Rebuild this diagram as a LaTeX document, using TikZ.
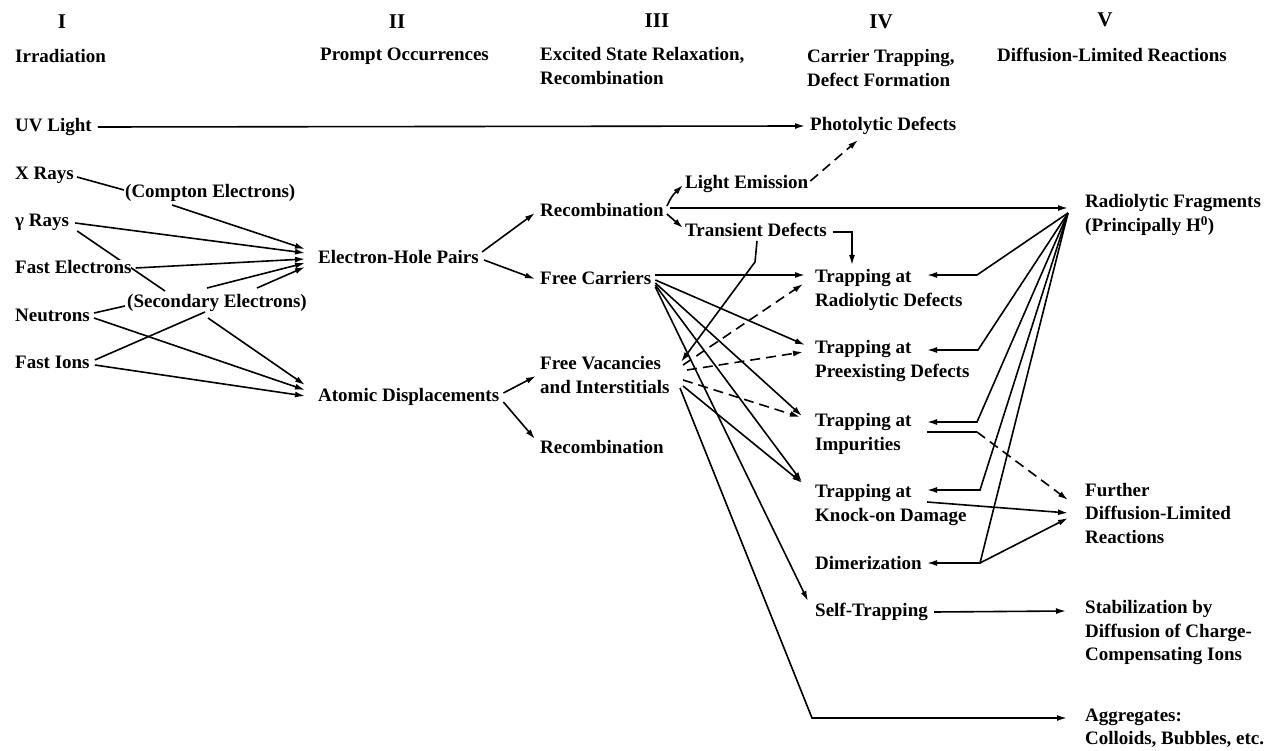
\documentclass[tikz,border=0pt]{standalone}
\usepackage{fontspec}
\setmainfont{Liberation Serif}
\usetikzlibrary{arrows.meta,calc,backgrounds}
\begin{document}
\begin{tikzpicture}[x=1pt,y=-1pt,
  txt/.style={inner sep=0pt,anchor=west,align=left,font=\fontsize{19}{23.5}\selectfont\bfseries},
  hdr/.style={inner sep=0pt,font=\fontsize{21}{24}\selectfont\bfseries},
  ln/.style={line width=1.6pt},
  arr/.style={ln,-{Latex[length=10pt,width=6pt]}},
  dsh/.style={arr,dash pattern=on 10pt off 6pt}]
\useasboundingbox (0,0) rectangle (1275,751);
% headers
\node[hdr] (nI) at (62,22) {I};
\node[hdr] (nII) at (397,22) {II};
\node[hdr] (nIII) at (657,21) {III};
\node[hdr] (nIV) at (881,22) {IV};
\node[hdr] (nV) at (1105,20) {V};
\node[txt] (hI) at (15,56) {Irradiation};
\node[txt] (hII) at (320,56) {Prompt Occurrences};
\node[txt] (hIII) at (540,66) {Excited State Relaxation,\\Recombination};
\node[txt] (hIV) at (807,68) {Carrier Trapping,\\Defect Formation};
\node[txt] (hV) at (997,55) {Diffusion-Limited Reactions};
% column I
\node[txt] (uv) at (15,127) {UV Light};
\node[txt] (xray) at (15,175) {X Rays};
\node[txt] (gray) at (15,222) {γ Rays};
\node[txt,fill=white] (fe) at (15,267) {Fast Electrons};
\node[txt] (neut) at (15,315) {Neutrons};
\node[txt] (fi) at (15,362) {Fast Ions};
\node[txt] (compton) at (125,193) {(Compton Electrons)};
\node[txt] (sec) at (127,303) {(Secondary Electrons)};
% column II, III
\node[txt] (ehp) at (318,257) {Electron-Hole Pairs};
\node[txt] (ad) at (318,397) {Atomic Displacements};
\node[txt] (rec1) at (540,210) {Recombination};
\node[txt] (fc) at (540,278) {Free Carriers};
\node[txt] (fv) at (540,375) {Free Vacancies\\and Interstitials};
\node[txt] (rec2) at (540,447) {Recombination};
\node[txt] (le) at (685,184) {Light Emission};
\node[txt] (td) at (685,230) {Transient Defects};
% column IV
\node[txt] (photo) at (810,126) {Photolytic Defects};
\node[txt] (rad) at (815,290) {Trapping at\\Radiolytic Defects};
\node[txt] (pre) at (815,361) {Trapping at\\Preexisting Defects};
\node[txt] (imp) at (815,434) {Trapping at\\Impurities};
\node[txt] (kno) at (815,505) {Trapping at\\Knock-on Damage};
\node[txt] (dim) at (815,563) {Dimerization};
\node[txt] (self) at (815,612) {Self-Trapping};
% column V
\node[txt] (rf) at (1085,215) {Radiolytic Fragments\\(Principally H\textsuperscript{0})};
\node[txt] (fdlr) at (1085,513) {Further\\Diffusion-Limited\\Reactions};
\node[txt] (stab) at (1085,633) {Stabilization by\\Diffusion of Charge-\\Compensating Ions};
\node[txt] (agg) at (1085,728) {Aggregates:\\Colloids, Bubbles, etc.};

\begin{pgfonlayer}{background}
\fill[white] (0,0) rectangle (1275,751);
\draw[ln] ($(gray.east)+(8,9)$) -- ($(sec.west)+(38,-12)$);
\end{pgfonlayer}

% column I -> II
\draw[arr] ($(uv.east)+(6,0)$) -- ($(photo.west)+(-5,0)$);
\draw[ln] ($(xray.east)+(3,2)$) -- ($(compton.west)+(-1,-3)$);
\draw[arr] ($(compton.west)+(47,12)$) -- ($(ehp.west)+(-13,-8)$);
\draw[arr] ($(gray.east)+(6,1)$) -- ($(ehp.west)+(-13,-4)$);
\draw[arr] ($(fe.east)+(4,1)$) -- ($(ehp.west)+(-13,2)$);
\draw[arr] ($(sec.west)+(80,-15)$) -- ($(ehp.west)+(-13,6)$);
\draw[arr] ($(sec.west)+(130,-15)$) -- ($(ehp.west)+(-13,10)$);
\draw[arr] ($(sec.west)+(81,15)$) -- ($(ad.west)+(-13,-12)$);
\draw[arr] ($(neut.east)+(4,3)$) -- ($(ad.west)+(-13,-7)$);
\draw[arr] ($(fi.east)+(5,3)$) -- ($(ad.west)+(-13,-1)$);
\draw[ln] ($(neut.east)+(4,-2)$) -- ($(sec.west)+(-2,3)$);
\draw[ln] ($(fi.east)+(5,-2)$) -- ($(sec.west)+(78,9)$);
% II -> III
\draw[arr] ($(ehp.east)+(3,-5)$) -- ($(rec1.west)+(-5,3)$);
\draw[arr] ($(ehp.east)+(5,3)$) -- ($(fc.west)+(-5,1)$);
\draw[arr] ($(ad.east)+(4,-4)$) -- ($(fv.west)+(-4,1)$);
\draw[arr] ($(ad.east)+(4,5)$) -- ($(rec2.west)+(-5,-8)$);
% recombination
\draw[arr] ($(rec1.east)+(3,-4)$) .. controls ($(rec1.east)+(8,-14)$) .. ($(le.west)+(-2,1)$);
\draw[arr] ($(rec1.east)+(3,4)$) -- ($(td.west)+(-2,-2)$);
\draw[arr] ($(rec1.east)+(6,-2)$) -- ($(rf.west)+(-17,-7)$);
\draw[dsh] ($(le.east)+(2,-3)$) -- ($(photo.west)+(48,14)$);
\draw[arr] ($(td.east)+(6,2)$) -| ($(rad.west)+(37,-25)$);
\draw[arr] ($(td.west)+(72,11)$) -- ($(td.west)+(70,32)$) -- ($(fv.west)+(141,-13)$);
% free carriers
\draw[arr] ($(fc.east)+(4,-3)$) -- ($(rad.west)+(-10,-15)$);
\draw[arr] ($(fc.east)+(4,2)$) -- ($(pre.west)+(-10,-16)$);
\draw[arr] ($(fc.east)+(4,5)$) -- ($(imp.west)+(-13,-18)$);
\draw[arr] ($(fc.east)+(4,7)$) -- ($(kno.west)+(-13,-23)$);
\draw[arr] ($(fc.east)+(4,9)$) -- ($(self.west)+(-7,-11)$);
% free vacancies
\draw[dsh] ($(fv.west)+(143,-10)$) -- ($(rad.west)+(-12,-6)$);
\draw[dsh] ($(fv.west)+(147,-5)$) -- ($(pre.west)+(-12,-9)$);
\draw[dsh] ($(fv.west)+(143,5)$) -- ($(imp.west)+(-15,-17)$);
\draw[arr] ($(fv.west)+(143,11)$) -- ($(kno.west)+(-13,-22)$);
\draw[arr] ($(fv.west)+(140,13)$) -- ($(agg.west)+(-273,-10)$) -- ($(agg.west)+(-18,-10)$);
% radiolytic fragments
\draw[arr] ($(rf.west)+(-17,-2)$) -- ($(rad.west)+(162,-15)$) -- ($(rad.west)+(112,-15)$);
\draw[arr] ($(rf.west)+(-17,-2)$) -- ($(pre.west)+(163,-11)$) -- ($(pre.west)+(112,-11)$);
\draw[arr] ($(rf.west)+(-17,-2)$) -- ($(imp.west)+(162,-12)$) -- ($(imp.west)+(112,-12)$);
\draw[arr] ($(rf.west)+(-17,-2)$) -- ($(kno.west)+(165,-15)$) -- ($(kno.west)+(112,-15)$);
\draw[arr] ($(rf.west)+(-17,-2)$) -- ($(dim.west)+(165,0)$) -- ($(dim.west)+(112,0)$);
% further reactions
\draw[ln] ($(imp.west)+(112,-2)$) -- ($(imp.west)+(162,-2)$);
\draw[dsh] ($(imp.west)+(162,-2)$) -- ($(fdlr.west)+(-17,-13)$);
\draw[arr] ($(kno.west)+(112,-3)$) -- ($(fdlr.west)+(-17,0)$);
\draw[arr] ($(dim.west)+(165,0)$) -- ($(fdlr.west)+(-17,5)$);
\draw[arr] ($(self.east)+(6,0)$) -- ($(stab.west)+(-19,-22)$);
\end{tikzpicture}
\end{document}
